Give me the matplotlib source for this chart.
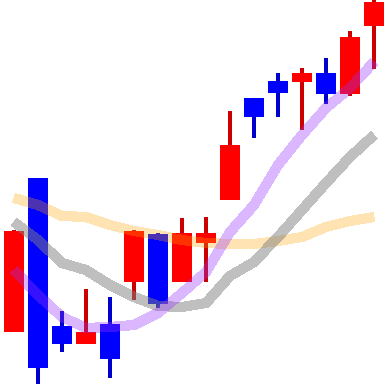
import matplotlib
matplotlib.use("Agg")
import matplotlib.pyplot as plt
import numpy as np

opens  = [52, 206, 58, 40, 60, 102, 150, 102, 141, 184, 286, 303, 302, 311, 290, 358]
highs  = [154, 206, 73, 95, 87, 154, 151, 166, 167, 273, 286, 311, 316, 326, 353, 386]
lows   = [52, -2, 32, 40, 6, 84, 76, 102, 102, 184, 246, 267, 254, 280, 288, 315]
closes = [153, 16, 40, 52, 25, 153, 80, 151, 151, 239, 267, 291, 311, 290, 347, 382]

ma_yellow = [186, 179, 168, 167, 159, 153, 149, 144, 141, 140, 140, 143, 147, 157, 163, 167]
ma_gray   = [162, 144, 121, 114, 99, 87, 78, 77, 81, 108, 122, 147, 174, 201, 227, 249]
ma_purple = [114, 89, 67, 56, 57, 59, 71, 91, 112, 152, 179, 219, 249, 276, 296, 322]

fig = plt.figure(figsize=(3.84, 3.84), dpi=100)
ax = fig.add_axes([0, 0, 1, 1])
ax.set_axis_off()

x = np.arange(len(opens))
o = np.array(opens); c = np.array(closes); h = np.array(highs); l = np.array(lows)
up = c >= o
body_col = np.where(up, '#ff0000', '#0000ff')
wick_col = np.where(up, '#cc0000', '#0000cc')

ax.bar(x, h - l, bottom=l, width=0.17, color=wick_col, zorder=1, antialiased=False)
ax.bar(x, np.abs(c - o), bottom=np.minimum(o, c), width=0.833, color=body_col, zorder=2,
       antialiased=False)

kw = dict(lw=6.6, solid_capstyle='butt', zorder=3, antialiased=False)
ax.plot(x, ma_yellow, color='#ffa500', alpha=0.3, **kw)
ax.plot(x, ma_gray, color='#808080', alpha=0.5, **kw)
ax.plot(x, ma_purple, color='#9933ff', alpha=0.35, **kw)

ax.set_xlim(-14/24, 15 + 10/24)
ax.set_ylim(0, 384)

fig.savefig('out.png', dpi=100)
